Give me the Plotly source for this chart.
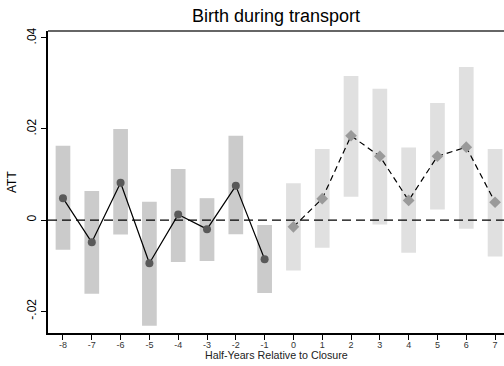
import plotly.graph_objects as go

# Event-study estimates: half-years relative to closure
pre_t = [-8, -7, -6, -5, -4, -3, -2, -1]
pre_att = [0.0048, -0.0049, 0.0082, -0.0095, 0.0012, -0.0020, 0.0075, -0.0086]
pre_lo = [-0.0065, -0.0162, -0.0032, -0.0232, -0.0092, -0.0090, -0.0031, -0.0160]
pre_hi = [0.0163, 0.0064, 0.0200, 0.0040, 0.0112, 0.0048, 0.0185, -0.0011]

post_t = [0, 1, 2, 3, 4, 5, 6, 7]
post_att = [-0.0015, 0.0047, 0.0185, 0.0140, 0.0043, 0.0140, 0.0160, 0.0039]
post_lo = [-0.0111, -0.0061, 0.0051, -0.0010, -0.0072, 0.0023, -0.0019, -0.0080]
post_hi = [0.0081, 0.0156, 0.0316, 0.0288, 0.0159, 0.0257, 0.0336, 0.0156]

x_ticks = list(range(-8, 8))
x_tick_labels = [str(t) for t in x_ticks]
y_ticks = [-0.02, 0, 0.02, 0.04]
y_tick_labels = ["-.02", "0", ".02", ".04"]

FONT = "Liberation Sans, Arial, sans-serif"

fig = go.Figure()

# Confidence-interval bands
fig.add_trace(go.Bar(
    x=pre_t, y=[h - l for h, l in zip(pre_hi, pre_lo)], base=pre_lo,
    width=0.51, marker=dict(color="#cbcbcb", line=dict(width=0)),
    hoverinfo="skip", showlegend=False))
fig.add_trace(go.Bar(
    x=post_t, y=[h - l for h, l in zip(post_hi, post_lo)], base=post_lo,
    width=0.51, marker=dict(color="#e0e0e0", line=dict(width=0)),
    hoverinfo="skip", showlegend=False))

# Point estimates
fig.add_trace(go.Scatter(
    x=pre_t, y=pre_att, mode="lines+markers",
    line=dict(color="black", width=1.2),
    marker=dict(symbol="circle", size=8, color="#595959"),
    showlegend=False))
fig.add_trace(go.Scatter(
    x=post_t, y=post_att, mode="lines+markers",
    line=dict(color="black", width=1.2, dash="6px,4px"),
    marker=dict(symbol="diamond", size=9, color="#9a9a9a"),
    showlegend=False))

fig.update_layout(
    width=504, height=366,
    margin=dict(l=48, r=0, t=31, b=33),
    paper_bgcolor="white", plot_bgcolor="white",
    font=dict(family=FONT, color="black"),
    barmode="overlay",
    title=dict(text="Birth during transport", x=0.5, xref="paper",
               y=1 - 16 / 366, yref="container", yanchor="middle",
               font=dict(size=18, family=FONT, color="black")),
    xaxis=dict(
        range=[-8.52, 7.31], tickmode="array", tickvals=x_ticks,
        ticktext=x_tick_labels,
        ticks="outside", ticklen=5, tickwidth=1, tickcolor="black",
        ticklabelstandoff=-3,
        tickfont=dict(size=9, color="#333333"),
        showline=True, linecolor="black", linewidth=1.5,
        showgrid=False, zeroline=False),
    yaxis=dict(
        range=[-0.0248, 0.0415], tickmode="array", tickvals=y_ticks,
        ticktext=y_tick_labels, tickangle=-90,
        ticks="outside", ticklen=5, tickwidth=1, tickcolor="black",
        tickfont=dict(size=12, color="black"),
        showline=True, linecolor="black", linewidth=1.5,
        showgrid=False, zeroline=False),
    shapes=[
        dict(type="line", xref="paper", yref="y", x0=0, x1=1, y0=0, y1=0,
             line=dict(color="black", width=1.2, dash="9px,5px"), layer="above"),
        dict(type="line", xref="paper", yref="paper", x0=0, x1=1, y0=1, y1=1,
             line=dict(color="#666666", width=2)),
    ],
    annotations=[
        dict(text="Half-Years Relative to Closure", xref="paper", yref="paper",
             x=0.5, y=-22 / 302, yanchor="middle", showarrow=False,
             font=dict(size=10.7, family=FONT, color="#222222")),
        dict(text="ATT", xref="paper", yref="paper", x=-36 / 456, y=0.5,
             xanchor="center", yanchor="middle", textangle=-90, showarrow=False,
             font=dict(size=12, family=FONT, color="black")),
    ],
)

fig.write_html("out.html")
